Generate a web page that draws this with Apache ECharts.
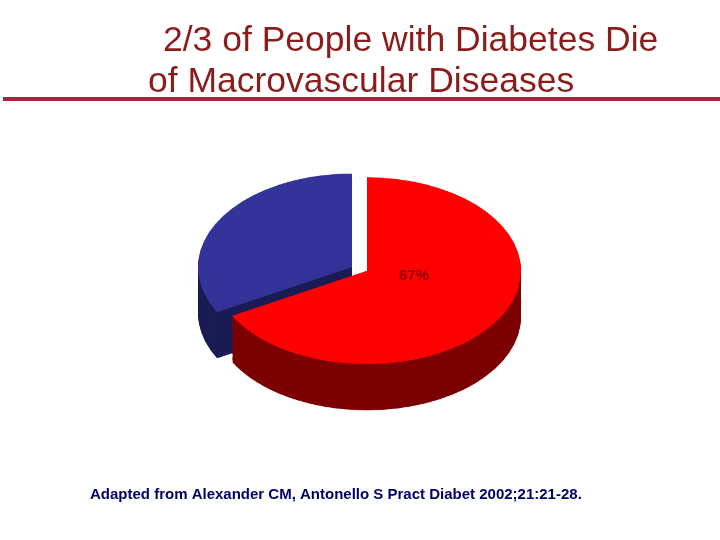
<!DOCTYPE html>
<html>
<head>
<meta charset="utf-8">
<script src="https://cdn.jsdelivr.net/npm/echarts@6/dist/echarts.min.js"></script>
<style>
  body { margin: 0; background: #fff; }
  #pie { position: absolute; left: 0; top: 0; width: 720px; height: 890px;
         transform-origin: 0 0; transform: scaleY(0.607); }
  #main { position: absolute; left: 0; top: 0; width: 720px; height: 540px; }
</style>
</head>
<body>
<div id="pie"></div>
<div id="main"></div>
<script>
// data
const categories = ['Macrovascular diseases', 'Other causes'];
const values = [67, 33];
const topColors = ['#ff0000', '#333399'];
const sideColors = ['#7d0000', '#1c1c55'];
const pctLabel = '67%';

const font = '"Liberation Sans", Arial, sans-serif';

let main = echarts.init(document.getElementById('main'));
main.setOption({
    backgroundColor: 'transparent',
    graphic: [
        { type: 'text', left: 163, top: 23, style: { text: '2/3 of People with Diabetes Die', font: '35.5px ' + font, fill: '#8b1c1c' } },
        { type: 'text', left: 148, top: 64, style: { text: 'of Macrovascular Diseases', font: '35.5px ' + font, fill: '#8b1c1c' } },
        { type: 'rect', shape: { x: 3, y: 97, width: 717, height: 4 }, style: { fill: '#b2203a' } },
        { type: 'text', left: 90, top: 487, style: { text: 'Adapted from Alexander CM, Antonello S Pract Diabet 2002;21:21-28.', font: 'bold 15px ' + font, fill: '#000066' } },
        { type: 'text', left: 399, top: 268, z: 100, style: { text: pctLabel, font: 'bold 15px ' + font, fill: '#8b0000' } }
    ]
});

// fake 3D pie: stacked layers for the side, then the top face; each slice its own center (exploded)
const r = 154, depth = 76, step = 2;
const centers = [[367, 446], [352, 440]];
let series = [];
function layer(dy, colors, z) {
    return centers.map((c, s) => ({
        type: 'pie', silent: true, animation: false, z: z,
        center: [c[0], c[1] + dy], radius: [0, r], startAngle: 90, clockwise: true,
        label: { show: false }, labelLine: { show: false },
        itemStyle: { borderWidth: 0 },
        data: categories.map((name, i) => ({
            name: name, value: values[i],
            itemStyle: { color: i === s ? colors[i] : 'transparent' }
        }))
    }));
}
for (let k = depth; k > 0; k -= step) series.push(...layer(k, sideColors, 1));
series.push(...layer(0, topColors, 2));

let pie = echarts.init(document.getElementById('pie'));
pie.setOption({ series: series });
</script>
</body>
</html>
